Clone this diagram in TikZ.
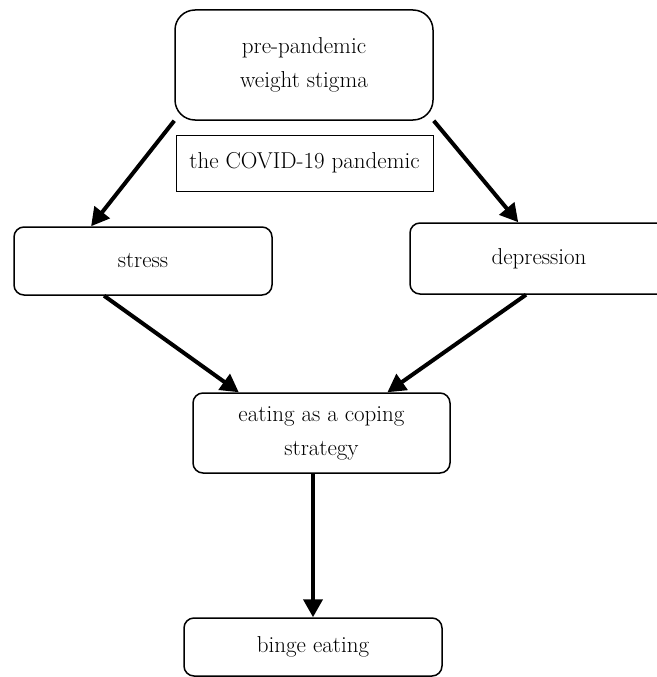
\documentclass[tikz,border=0pt]{standalone}
\usepackage{tikz}
\usetikzlibrary{arrows.meta,positioning,calc}
\tikzset{
  % Base box
  box/.style={rectangle,rounded corners=10pt,
              minimum width=258pt,minimum height=68pt,
              text centered,align=center,draw,line width=1.5pt,
              font=\fontsize{23}{34}\selectfont},
  % Plain box for the context
  cbox/.style={box,rounded corners=0pt,line width=0.9pt,minimum height=56pt},
  % Arrow
  arr/.style={-{Triangle[length=18pt,width=19pt]},line width=4pt}
}
\begin{document}
\begin{tikzpicture}[x=1pt,y=1pt]
  \useasboundingbox (0,0) rectangle (656,-677);
  \node[box,rounded corners=20pt,minimum height=110pt] (stigma) at (304,-65)  {pre-pandemic\\weight stigma};
  \node[cbox,minimum width=257pt]                     (covid)  at (304.5,-163) {the COVID-19 pandemic};
  \node[box]                                         (stress) at (143,-261) {stress};
  \node[box,minimum height=71pt]                     (depr)   at (539,-258.5) {depression};
  \node[box,minimum width=257pt,minimum height=80pt] (coping) at (321.5,-433) {eating as a coping\\strategy};
  \node[box,minimum height=58pt]                     (binge)  at (313,-647) {binge eating};

  \draw[arr](stigma.south west) -- ($(stress.north west)!0.3!(stress.north east)$);
  \draw[arr](stigma.south east) -- ($(depr.north west)!0.42!(depr.north east)$);
  \draw[arr]($(stress.south west)!0.35!(stress.south east)$) -- ($(coping.north west)!0.18!(coping.north east)$);
  \draw[arr]($(depr.south west)!0.45!(depr.south east)$) -- ($(coping.north west)!0.755!(coping.north east)$);
  \draw[arr](binge.north |- coping.south) -- (binge.north);
\end{tikzpicture}
\end{document}
